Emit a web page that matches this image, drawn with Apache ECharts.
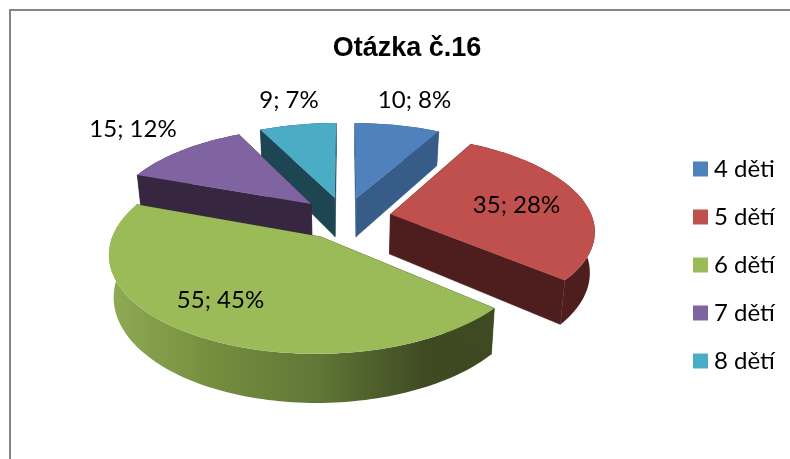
<!DOCTYPE html>
<html>
<head>
<meta charset="utf-8">
<style>
  html, body { margin: 0; padding: 0; background: #fff; }
  #chart { width: 790px; height: 459px; }
</style>
<script src="https://cdn.jsdelivr.net/npm/echarts@6/dist/echarts.min.js"></script>
</head>
<body>
<div id="chart"></div>
<script>
const categories = ['4 děti', '5 dětí', '6 dětí', '7 dětí', '8 dětí']
const counts = [10, 35, 55, 15, 9]
const percents = ['8%', '28%', '45%', '12%', '7%']

// kolac v perspektive: rovina (X, Y), Y miri k divakovi
const cx = 345, cy = 218, rx = 202, ry = 92.3, persp = 0.155, depth = 40, explode = 0.23
const topColors = ['#4F81BD', '#C0504D', '#9BBB59', '#8064A2', '#4BACC6']
const sideColors = ['#375C87', '#4D1E1D', null, '#36263F', '#1D4552']
const drawOrder = [1, 3, 4, 2, 0] // z kazde vysece, zadni driv nez predni
const labelSpots = [[414.5, 100], [516.5, 205], [220.5, 300], [133, 129], [289, 100]]

const total = counts.reduce((a, b) => a + b, 0)
const toRad = (v) => (v / total) * Math.PI * 2

const project = (X, Y, bottom) => {
  const s = 1 / (1 - persp * Y)
  const squeeze = bottom ? 0.98 : 1
  return [cx + rx * X * s * squeeze, cy + ry * Y * s + (bottom ? depth * s : 0)]
}

const wedgeGeometry = (i) => {
  const before = counts.slice(0, i).reduce((a, b) => a + b, 0)
  const a0 = toRad(before)
  const a1 = toRad(before + counts[i])
  const mid = (a0 + a1) / 2
  const ox = Math.sin(mid) * explode
  const oy = -Math.cos(mid) * explode
  const rim = []
  const steps = Math.max(8, Math.round(counts[i] * 2))
  for (let k = 0; k <= steps; k++) {
    const a = a0 + ((a1 - a0) * k) / steps
    rim.push([ox + Math.sin(a), oy - Math.cos(a)])
  }
  return { apex: [ox, oy], rim }
}

const greenSide = new echarts.graphic.LinearGradient(0, 0, 1, 0, [
  { offset: 0, color: '#8FAB55' },
  { offset: 0.25, color: '#76903F' },
  { offset: 0.55, color: '#5F7636' },
  { offset: 0.82, color: '#3F4A22' },
  { offset: 1, color: '#3D4821' },
])

const renderWedge = (i) => () => {
  const { apex, rim } = wedgeGeometry(i)
  const flat = sideColors[i] || '#3F4A22'
  const face = (a, b) => ({
    type: 'polygon',
    shape: { points: [project(a[0], a[1]), project(b[0], b[1]), project(b[0], b[1], true), project(a[0], a[1], true)] },
    style: { fill: flat, stroke: flat, lineWidth: 0.5 },
  })
  const outer = rim.map((p) => project(p[0], p[1])).concat(rim.slice().reverse().map((p) => project(p[0], p[1], true)))
  return {
    type: 'group',
    children: [
      { type: 'polygon', shape: { points: outer }, style: { fill: sideColors[i] || greenSide } },
      face(apex, rim[0]),
      face(apex, rim[rim.length - 1]),
      {
        type: 'polygon',
        shape: { points: [project(apex[0], apex[1])].concat(rim.map((p) => project(p[0], p[1]))) },
        style: { fill: topColors[i] },
      },
      {
        type: 'text',
        z2: 100,
        style: {
          x: labelSpots[i][0],
          y: labelSpots[i][1],
          text: `${counts[i]}; ${percents[i]}`,
          fill: '#000',
          font: '24px Lato',
          align: 'center',
          verticalAlign: 'middle',
        },
      },
    ],
  }
}

const chart = echarts.init(document.getElementById('chart'))

chart.setOption({
  animation: false,
  title: {
    text: 'Otázka č.16',
    left: 407,
    top: 35,
    padding: 0,
    textAlign: 'center',
    textStyle: { fontFamily: 'Liberation Sans', fontWeight: 'bold', fontSize: 27, color: '#000' },
  },
  legend: {
    orient: 'vertical',
    left: 693,
    top: 157,
    padding: 0,
    itemWidth: 15,
    itemHeight: 15,
    itemGap: 24,
    selectedMode: false,
    icon: 'rect',
    data: categories,
    textStyle: { fontFamily: 'Lato', fontSize: 24, color: '#000', padding: [0, 0, 0, 1] },
  },
  graphic: [
    {
      type: 'polyline',
      shape: { points: [[10, 459], [10, 10], [790, 10]] },
      style: { fill: null, stroke: '#868686', lineWidth: 2 },
    },
  ],
  series: categories.map((name, i) => ({
    type: 'custom',
    name,
    coordinateSystem: 'none',
    z: drawOrder[i],
    itemStyle: { color: topColors[i] },
    renderItem: renderWedge(i),
    data: [counts[i]],
  })),
})
</script>
</body>
</html>
